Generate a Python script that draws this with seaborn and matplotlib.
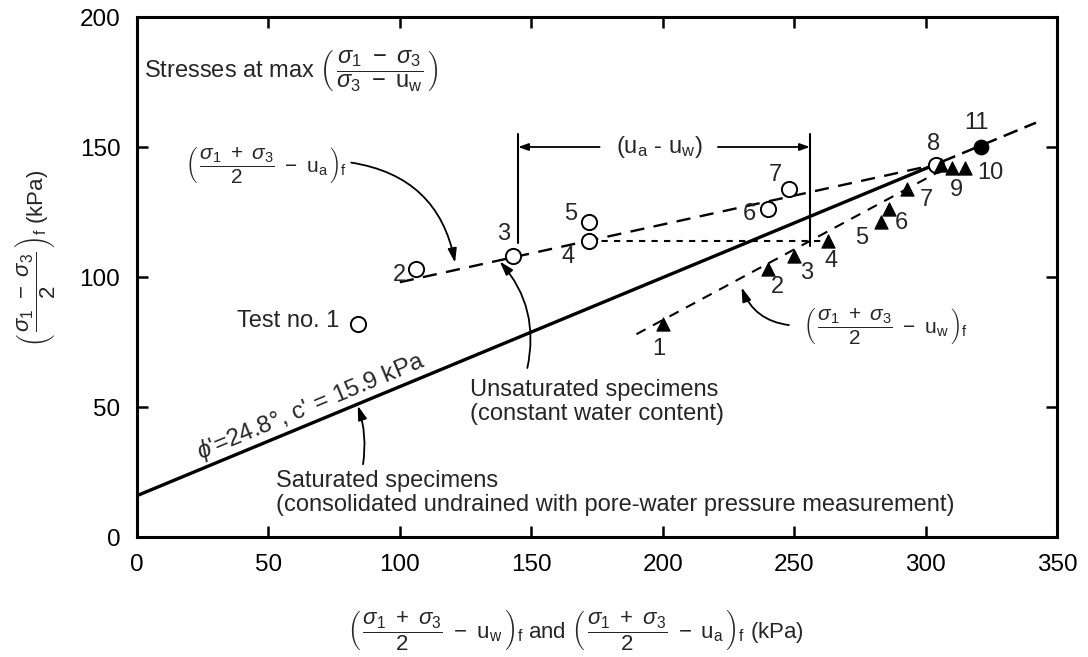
import numpy as np
import pandas as pd
import matplotlib
matplotlib.use("Agg")
import matplotlib.pyplot as plt
import seaborn as sns

# ---- data -------------------------------------------------------------
test_ids = ["1", "2", "3", "4", "5", "6", "7", "8", "9", "10"]
q_fail = [82, 103, 108, 114, 121, 126, 134, 143, 142, 142]          # ((s1-s3)/2)_f
p_net_ua = [84, 106, 143, 172, 172, 240, 248, 304, np.nan, np.nan]  # ((s1+s3)/2 - ua)_f
p_eff_uw = [200, 240, 250, 263, 283, 286, 293, 306, 310, 315]       # ((s1+s3)/2 - uw)_f
test11_p = [321]
test11_q = [150]

phi_deg = 24.8
c_eff = 15.9
env_x_solid = [0, 306]
env_x_dashed = [306, 342]

ua_line_x = [100, 305]
ua_line_y = [98, 143.5]
uw_line_x = [190, 306]
uw_line_y = [78, 141]

x_ticks = [0, 50, 100, 150, 200, 250, 300, 350]
y_ticks = [0, 50, 100, 150, 200]

df = pd.DataFrame({"test": test_ids, "q": q_fail, "p_ua": p_net_ua, "p_uw": p_eff_uw})

# ---- style ------------------------------------------------------------
sns.set_theme(style="ticks")
plt.rcParams["font.family"] = ["Liberation Sans", "DejaVu Sans"]
plt.rcParams["mathtext.fontset"] = "custom"
plt.rcParams["mathtext.rm"] = "Liberation Sans"
plt.rcParams["mathtext.it"] = "Liberation Sans:italic"
plt.rcParams["mathtext.bf"] = "Liberation Sans:bold"

fig = plt.figure(figsize=(10.88, 6.57), dpi=100)
ax = fig.add_axes([137 / 1088, 1 - 537 / 657, 920 / 1088, 520 / 657])
ax.set_xlim(0, 350)
ax.set_ylim(0, 200)
ax.set_xticks(x_ticks)
ax.set_yticks(y_ticks)
ax.tick_params(direction="in", length=8, width=1.8, top=True, right=True,
               labelsize=17.5, pad=12, colors="black")
for sp in ax.spines.values():
    sp.set_linewidth(2.2)
    sp.set_color("black")

K = "black"

# failure envelope of saturated specimens
slope = np.sin(np.radians(phi_deg))
env_solid = pd.DataFrame({"x": env_x_solid, "y": [c_eff + slope * x for x in env_x_solid]})
env_dash = pd.DataFrame({"x": env_x_dashed, "y": [c_eff + slope * x for x in env_x_dashed]})
sns.lineplot(data=env_solid, x="x", y="y", color=K, lw=2.4, ax=ax, zorder=2)
sns.lineplot(data=env_dash, x="x", y="y", color=K, lw=1.8, ax=ax, zorder=2,
             linestyle=(0, (6, 3)))

# fitted lines through unsaturated results
sns.lineplot(x=ua_line_x, y=ua_line_y, color=K, lw=1.7, ax=ax, linestyle=(0, (6, 4)), zorder=2)
sns.lineplot(x=uw_line_x, y=uw_line_y, color=K, lw=1.5, ax=ax, linestyle=(0, (5, 4)), zorder=2)

# horizontal link for test 4
t4 = df.iloc[3]
ax.plot([t4.p_ua, t4.p_uw], [t4.q, t4.q], color=K, lw=1.5, linestyle=(0, (3, 3)), zorder=2)

# markers
sns.scatterplot(data=df.dropna(), x="p_ua", y="q", marker="o", s=120,
                facecolor="white", edgecolor=K, linewidth=1.4, ax=ax, zorder=4)
sns.scatterplot(data=df, x="p_uw", y="q", marker="^", s=90,
                color=K, edgecolor=K, linewidth=0.8, ax=ax, zorder=4)
sns.scatterplot(x=test11_p, y=test11_q, marker="o", s=110, color=K, edgecolor=K, ax=ax, zorder=4)
ax.set_xlabel("")
ax.set_ylabel("")

# test number labels (offsets in points)
lab_fs = 17
ua_offsets = {"2": (-12, -4), "3": (-7, 16), "4": (-15, -12), "5": (-13, 6),
              "6": (-13, -3), "7": (-10, 10), "8": (-2, 15)}
for _, r in df.iterrows():
    if r.test in ua_offsets and not np.isnan(r.p_ua):
        dx, dy = ua_offsets[r.test]
        ax.annotate(r.test, (r.p_ua, r.q), xytext=(dx, dy), textcoords="offset points",
                    ha="center", va="center", fontsize=lab_fs, zorder=5)
uw_offsets = {"1": (-3, -18), "2": (7, -13), "3": (9, -12), "4": (2, -15), "5": (-14, -11),
              "6": (9, -10), "7": (14, -8), "9": (3, -16), "10": (18, -4)}
for _, r in df.iterrows():
    if r.test in uw_offsets:
        dx, dy = uw_offsets[r.test]
        ax.annotate(r.test, (r.p_uw, r.q), xytext=(dx, dy), textcoords="offset points",
                    ha="center", va="center", fontsize=lab_fs, zorder=5)
ax.annotate("11", (test11_p[0], test11_q[0]), xytext=(-3, 17), textcoords="offset points",
            ha="center", va="center", fontsize=lab_fs)

# text annotations
txt_fs = 17
frac_fs = 15
ax.text(2.5, 179, r"Stresses at max $\left(\,\dfrac{\sigma_1\ -\ \sigma_3}{\sigma_3\ -\ \mathrm{u_w}}\,\right)$",
        fontsize=txt_fs, ha="left", va="center")
ax.text(80, 143, r"$\left(\,\dfrac{\sigma_1\ +\ \sigma_3}{2}\ -\ \mathrm{u_a}\,\right)_{\mathrm{f}}$",
        fontsize=frac_fs, ha="right", va="center")
ax.text(284.5, 81, r"$\left(\,\dfrac{\sigma_1\ +\ \sigma_3}{2}\ -\ \mathrm{u_w}\,\right)_{\mathrm{f}}$",
        fontsize=frac_fs, ha="center", va="center")
ax.text(77, 83, "Test no. 1", fontsize=txt_fs, ha="right", va="center")
ax.text(126.5, 52, "Unsaturated specimens\n(constant water content)", fontsize=txt_fs,
        ha="left", va="center", linespacing=1.1)
ax.text(53, 17, "Saturated specimens\n(consolidated undrained with pore-water pressure measurement)",
        fontsize=txt_fs, ha="left", va="center", linespacing=1.1)

# envelope label, aligned with the line
p0 = ax.transData.transform((0, c_eff))
p1 = ax.transData.transform((300, c_eff + slope * 300))
ang = np.degrees(np.arctan2(p1[1] - p0[1], p1[0] - p0[0]))
xl = 25
ax.text(xl, c_eff + slope * xl + 1.0, r"$\phi$'=24.8°, c' = 15.9 kPa", fontsize=txt_fs + 0.5,
        rotation=ang, rotation_mode="anchor", ha="left", va="bottom")

# arrows
ap = dict(arrowstyle="-|>,head_length=0.7,head_width=0.22", color=K, lw=1.3,
          shrinkA=0, shrinkB=0)
ax.annotate("", xy=(121, 105.5), xytext=(81.5, 144),
            arrowprops=dict(ap, connectionstyle="arc3,rad=-0.35"))
ax.annotate("", xy=(138, 106), xytext=(148.5, 65),
            arrowprops=dict(ap, connectionstyle="arc3,rad=0.25"))
ax.annotate("", xy=(84, 50.5), xytext=(86, 28),
            arrowprops=dict(ap, connectionstyle="arc3,rad=0.12"))
ax.annotate("", xy=(230, 96), xytext=(248, 81.5),
            arrowprops=dict(ap, connectionstyle="arc3,rad=-0.3"))

# (ua - uw) bracket
ax.plot([145, 145], [113, 155], color=K, lw=1.5)
ax.plot([256, 256], [112, 155], color=K, lw=1.5)
ax.annotate("", xy=(145, 150), xytext=(176, 150),
            arrowprops=dict(ap, arrowstyle="-|>,head_length=0.5,head_width=0.18"))
ax.annotate("", xy=(256, 150), xytext=(221, 150),
            arrowprops=dict(ap, arrowstyle="-|>,head_length=0.5,head_width=0.18"))
ax.text(198.5, 150, r"(u$_\mathrm{a}$ - u$_\mathrm{w}$)", fontsize=txt_fs, ha="center", va="center")

# axis titles
fig.text(35 / 1088, 1 - 258 / 657,
         r"$\left(\,\dfrac{\sigma_1\ -\ \sigma_3}{2}\,\right)_{\mathrm{f}}$ (kPa)",
         rotation=90, fontsize=16, ha="center", va="center")
fig.text(575 / 1088, 1 - 630 / 657,
         r"$\left(\,\dfrac{\sigma_1\ +\ \sigma_3}{2}\ -\ \mathrm{u_w}\,\right)_{\mathrm{f}}$ and "
         r"$\left(\,\dfrac{\sigma_1\ +\ \sigma_3}{2}\ -\ \mathrm{u_a}\,\right)_{\mathrm{f}}$ (kPa)",
         fontsize=16, ha="center", va="center")

fig.savefig("out.png", dpi=100, facecolor="white")
